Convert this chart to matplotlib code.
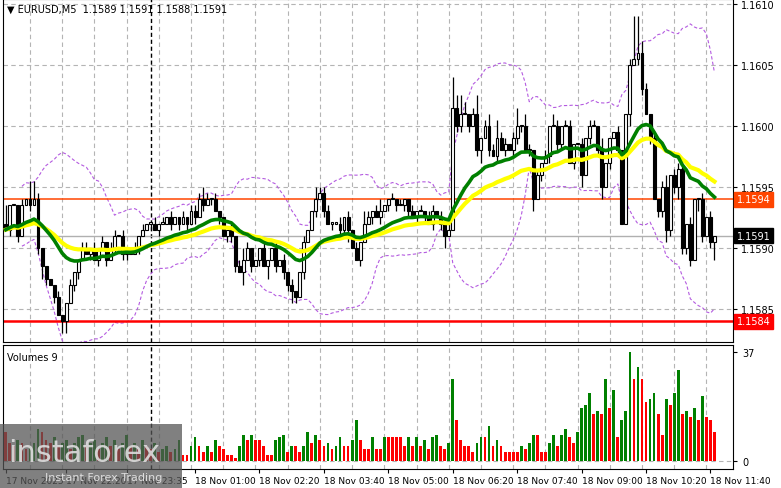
import numpy as np
import pandas as pd
import matplotlib
matplotlib.use("Agg")
import matplotlib.pyplot as plt

# closes in pips above 1.1580
closes = [11.5, 13.5, 13.5, 11, 13.5, 14, 13.5, 14, 10, 8.5,
          7.5, 7, 6, 4.5, 4, 5.5, 7, 8, 9, 10,
          9.5, 10, 9, 10, 10.5, 9, 10, 11, 11, 9.5,
          10, 9.5, 10, 11, 11.5, 12, 12, 11.5, 12, 12,
          12.5, 12, 12.5, 12, 12.5, 12, 13, 12.5, 14, 13.5,
          14, 14, 13, 12.5, 11, 11.5, 11, 8.5, 8, 9,
          10, 8.5, 9, 10, 8.5, 9, 10, 8.5, 9, 8,
          7, 6.5, 6, 8, 10.5, 11.5, 13, 14, 14.5, 13,
          12, 12, 12, 11.5, 12.5, 11.5, 10, 9, 10.5, 12,
          12.5, 13, 12.5, 13, 13.5, 14, 14, 13.5, 13.5, 14,
          13, 12.5, 13, 13, 12.5, 12, 13, 12.5, 12, 11,
          11.5, 21.5, 20, 21, 21, 20, 21, 18, 19, 20,
          18, 17.5, 19, 18, 18.5, 18, 19, 20, 20, 18,
          18, 14, 16, 17, 17.5, 20, 20, 18.5, 20, 20,
          17, 18.5, 18.5, 16, 19, 20, 20, 18, 15, 17,
          19, 19.5, 18, 12, 21, 25, 25.5, 26, 23, 21,
          19, 14, 13, 15, 11.5, 16, 15, 16.5, 10, 12,
          9, 14, 14, 11, 12.5, 10.5, 11]
# wick lengths in half pips
wick_up = ("3000103310 0001001001 1010101101 0010100101 0100101112 1010001012 "
           "1000100101 0100100211 1001010102 1012001010 0101011010 1523201301 "
           "2131101302 1010102101 1001011020 0010017621 0101201110 1001010")
wick_dn = ("0101001012 1010220110 0101010101 1001001010 0101010101 0101011102 "
           "0101020101 1210100101 0101120010 0101010101 1010101012 0011010120 "
           "1010101110 1201010110 0102010120 1010020110 1011211211 1021013")
volumes = [10, 6, 5, 7, 6, 4, 5, 6, 11, 10,
           7, 6, 8, 5, 6, 7, 4, 6, 8, 9,
           5, 6, 7, 4, 6, 8, 5, 7, 4, 6,
           9, 5, 6, 4, 7, 5, 4, 6, 3, 4,
           5, 3, 4, 7, 2, 2, 5, 8, 5, 3,
           5, 3, 7, 5, 4, 2, 2, 1, 5, 9,
           7, 9, 7, 7, 5, 2, 2, 7, 8, 9,
           3, 5, 5, 3, 5, 10, 6, 9, 7, 5,
           6, 4, 5, 8, 5, 5, 7, 14, 7, 4,
           4, 8, 4, 4, 8, 8, 8, 8, 8, 5,
           8, 5, 8, 5, 7, 4, 8, 9, 5, 4,
           6, 28, 14, 7, 5, 5, 3, 6, 8, 8,
           12, 5, 7, 5, 3, 3, 3, 3, 5, 4,
           6, 9, 9, 3, 3, 6, 9, 5, 9, 11,
           8, 6, 10, 18, 19, 23, 16, 17, 16, 28,
           18, 24, 8, 14, 17, 37, 28, 32, 28, 20,
           21, 23, 16, 9, 21, 19, 23, 31, 16, 17,
           15, 18, 14, 22, 15, 14, 10]
tick_pos = [0, 15, 30, 47, 63, 79, 95, 111, 127, 143, 159, 175]
tick_labels = ["17 Nov 2025", "17 Nov 22:20", "17 Nov 23:35", "18 Nov 01:00",
               "18 Nov 02:20", "18 Nov 03:40", "18 Nov 05:00", "18 Nov 06:20",
               "18 Nov 07:40", "18 Nov 09:00", "18 Nov 10:20", "18 Nov 11:40"]

base = 1.1580
up = np.array([int(c) for c in wick_up.replace(" ", "")]) * 0.5
dn = np.array([int(c) for c in wick_dn.replace(" ", "")]) * 0.5
c = np.array(closes, dtype=float)
o = np.r_[12.0, c[:-1]]
hi = np.maximum(o, c) + up
lo = np.minimum(o, c) - dn
x = np.arange(len(c))
P = lambda v: base + np.asarray(v) / 10000

cs = pd.Series(c)
ma_fast = cs.ewm(span=22, adjust=False).mean()
ma_slow = cs.ewm(span=40, adjust=False).mean()
bb_mid = cs.rolling(20, min_periods=5).mean()
bb_sd = cs.rolling(20, min_periods=5).std(ddof=0)

fig = plt.figure(figsize=(7.81, 4.89), dpi=100)
ax = fig.add_axes([3/781, 146/489, 730/781, 343/489])
axv = fig.add_axes([3/781, 19/489, 730/781, 124/489], sharex=ax)

xl = (-0.7, 180.6)
grid_kw = dict(color="#b4b4b4", ls=(0, (4, 3)), lw=0.8)
for a in (ax, axv):
    for t in range(-5, 181, 8):
        a.axvline(t + 3, zorder=0, **grid_kw)
for lvl in [1.1585, 1.1590, 1.1595, 1.1600, 1.1605, 1.1610]:
    ax.axhline(lvl, zorder=0, **grid_kw)
ax.axvline(36, color="black", ls=(0, (3, 2)), lw=1, zorder=1)
axv.axvline(36, color="black", ls=(0, (3, 2)), lw=1, zorder=1)

ax.plot(x, P(bb_mid + 2.2 * bb_sd), color="#b45be0", ls=(0, (3, 2)), lw=0.8, zorder=2)
ax.plot(x, P(bb_mid - 2.2 * bb_sd), color="#b45be0", ls=(0, (3, 2)), lw=0.8, zorder=2)
ax.axhline(1.1591, color="#b0b0b0", lw=1, zorder=2)
ax.axhline(1.1594, color="#ff4500", lw=1.1, zorder=2)
ax.axhline(1.1584, color="#ff0000", lw=1.8, zorder=2)

ax.vlines(x, P(lo), P(hi), color="black", lw=0.9, zorder=3)
bull = c >= o
body_h = np.where(np.abs(c - o) < 0.1, 0.1, np.abs(c - o)) / 10000
ax.bar(x, body_h, bottom=P(np.minimum(o, c)), width=0.72,
       color=np.where(bull, "white", "black"), edgecolor="black", lw=0.8, zorder=4)
ax.plot(x, P(ma_slow), color="#ffff00", lw=3, zorder=5)
ax.plot(x, P(ma_fast), color="#008000", lw=2.6, zorder=6)

ax.set_xlim(*xl)
ax.set_ylim(1.15823, 1.16104)
ax.yaxis.tick_right()
ax.set_yticks([1.1585, 1.1590, 1.1595, 1.1600, 1.1605, 1.1610])
ax.set_yticklabels(["1.1585", "1.1590", "1.1595", "1.1600", "1.1605", "1.1610"])
ax.tick_params(axis="y", labelsize=7, length=3, pad=3)
ax.tick_params(axis="x", bottom=False, labelbottom=False)
for lvl, txt, col in [(1.1594, "1.1594", "#ff4500"), (1.1591, "1.1591", "black"),
                      (1.1584, "1.1584", "#ff0000")]:
    ax.text(1.005, lvl, txt, transform=ax.get_yaxis_transform(), fontsize=7,
            color="white", va="center", ha="left",
            bbox=dict(boxstyle="square,pad=0.25", fc=col, ec=col))
ax.text(0.006, 0.985, "\u25bc EURUSD,M5  1.1589 1.1591 1.1588 1.1591", transform=ax.transAxes,
        fontsize=7, va="top", ha="left")

vcol = ["#ff0000"] + ["#008000" if volumes[i] > volumes[i - 1] else "#ff0000"
                      for i in range(1, len(volumes))]
axv.bar(x, volumes, width=0.7, color=vcol, zorder=3)
axv.axhline(0, color="#b4b4b4", ls=(0, (4, 3)), lw=0.8)
axv.set_ylim(-2.7, 39.4)
axv.yaxis.tick_right()
axv.set_yticks([0, 37])
axv.tick_params(axis="y", labelsize=7, length=3)
axv.set_xticks(tick_pos)
axv.set_xticklabels(tick_labels, ha="left", fontsize=6.5)
axv.tick_params(axis="x", length=3, pad=2)
axv.text(0.006, 0.94, "Volumes 9", transform=axv.transAxes, fontsize=7, va="top")

# watermark
fig.patches.append(plt.Rectangle((0, 0), 182/781, 64/489, transform=fig.transFigure,
                                 fc="#555555", alpha=0.75, zorder=10))
fig.text(8/781, 27/489, "instaforex", fontsize=22, color="#dddddd", alpha=0.9, zorder=11)
fig.text(45/781, 8/489, "Instant Forex Trading", fontsize=8, color="#dddddd", zorder=11)

fig.savefig("out.png", dpi=100)
